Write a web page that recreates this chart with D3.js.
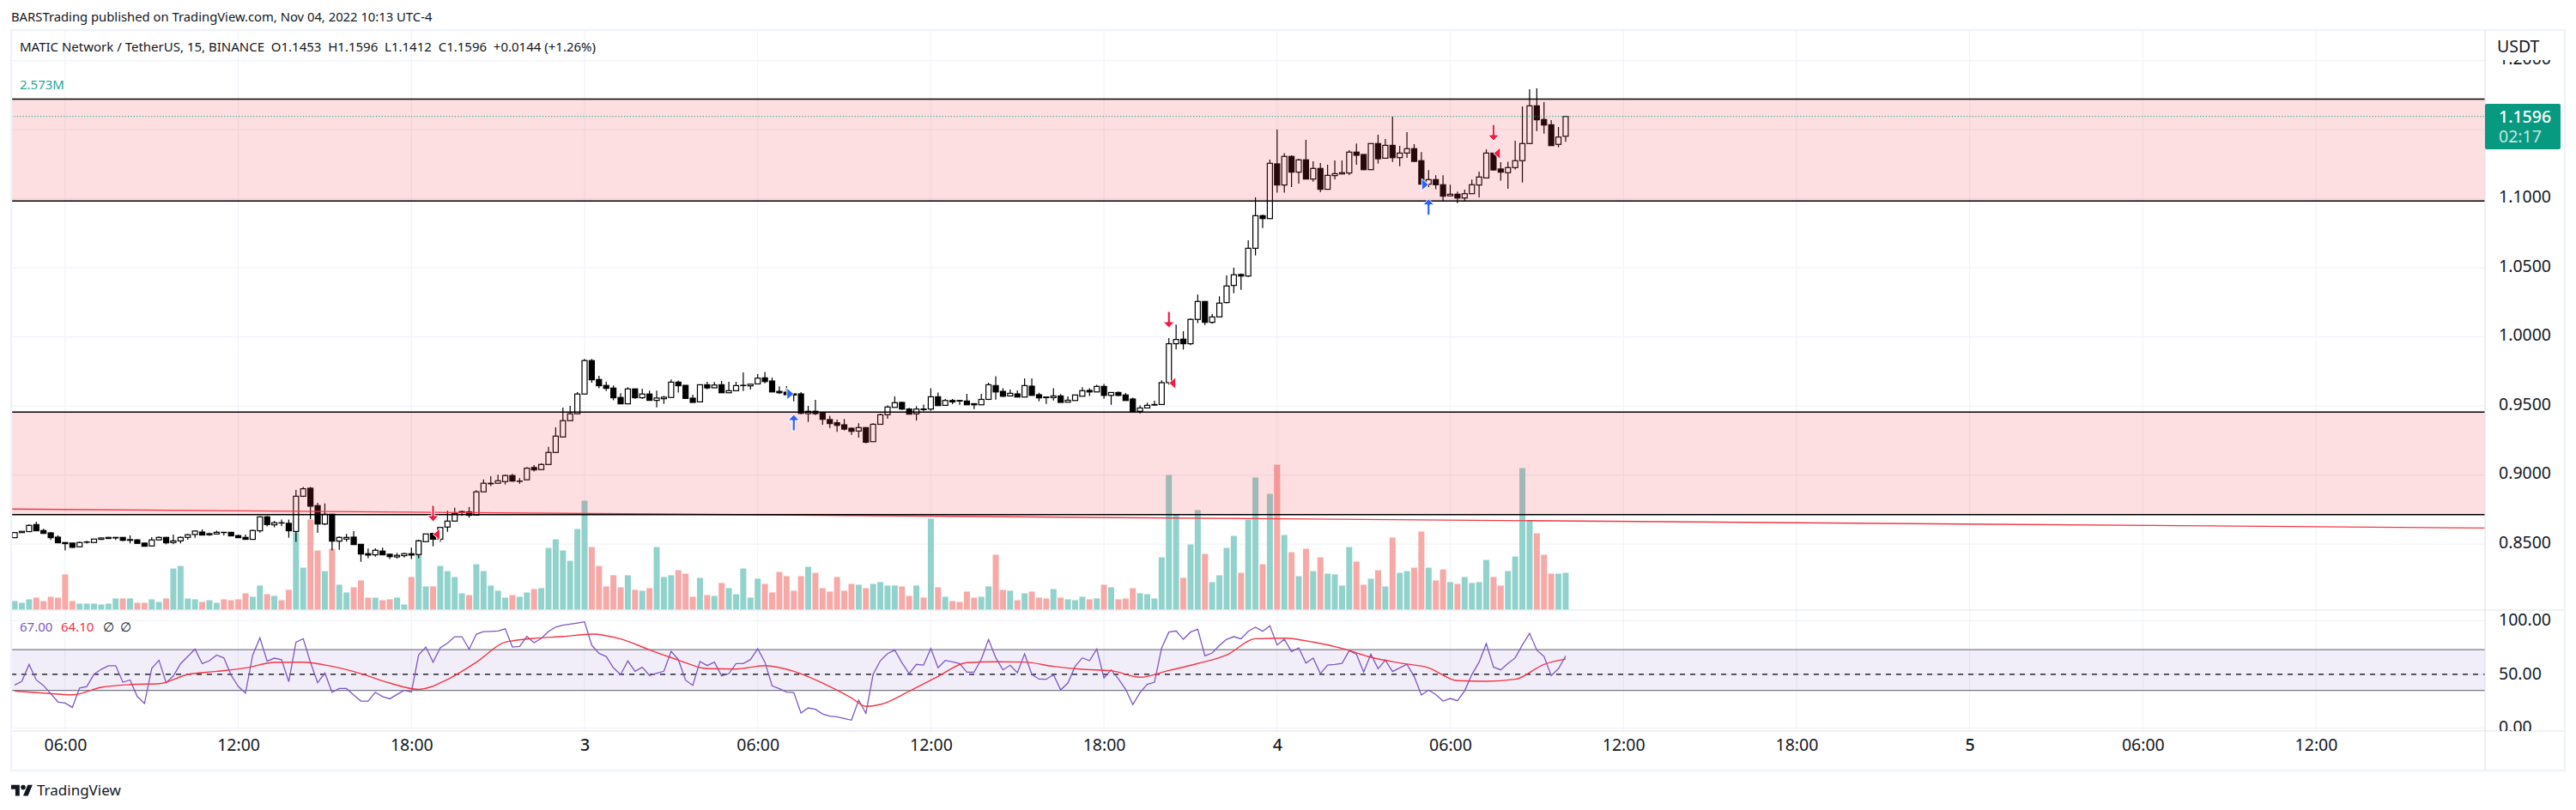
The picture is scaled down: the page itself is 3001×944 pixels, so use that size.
<!DOCTYPE html>
<html>
<head>
<meta charset="utf-8">
<script src="https://d3js.org/d3.v7.min.js"></script>
<style>
html, body { margin: 0; padding: 0; background: #fff; }
svg { display: block; }
text { font-family: "Noto Sans", sans-serif; fill: #131722; white-space: pre; }
</style>
</head>
<body>
<div id="chart"></div>
<script>
//////////////////////////////////////////////////////////////////////////////
// Data, one entry per 15 minute bar

var opens = [
  .8547,.8584,.8591,.8642,.8599,.8582,.8551,.8512,.8508,.8481,
  .8514,.8512,.8535,.8541,.8545,.8549,.8528,.8531,.8508,.8487,
  .8531,.8549,.8512,.8524,.8549,.8570,.8588,.8568,.8574,.8586,
  .8586,.8562,.8549,.8535,.8597,.8698,.8640,.8655,.8651,.8592,
  .8847,.8905,.8779,.8646,.8717,.8522,.8537,.8551,.8499,.8431,
  .8423,.8450,.8427,.8408,.8417,.8431,.8425,.8518,.8578,.8536,
  .8624,.8667,.8729,.8734,.8711,.8879,.8937,.8941,.8953,.8997,
  .8955,.8966,.9055,.9040,.9077,.9164,.9276,.9394,.9444,.9587,
  .9829,.9692,.9649,.9630,.9562,.9516,.9624,.9560,.9587,.9541,
  .9553,.9562,.9673,.9650,.9557,.9530,.9654,.9632,.9654,.9596,
  .9611,.9648,.9646,.9660,.9704,.9681,.9606,.9600,.9588,.9588,
  .9445,.9462,.9453,.9402,.9379,.9364,.9339,.9319,.9344,.9242,
  .9368,.9437,.9490,.9526,.9478,.9443,.9478,.9478,.9567,.9505,
  .9540,.9540,.9536,.9517,.9509,.9548,.9648,.9606,.9573,.9588,
  .9565,.9644,.9582,.9565,.9561,.9573,.9528,.9540,.9571,.9613,
  .9602,.9642,.9577,.9598,.9580,.9551,.9462,.9486,.9507,.9511,
  .9669,.9951,.9984,.9951,1.0127,1.0257,1.0106,1.0145,1.0249,1.0373,
  1.0452,1.0441,1.0642,1.0878,1.0857,1.1253,1.1100,1.1307,1.1193,1.1282,
  1.1143,1.1220,1.1069,1.1168,1.1180,1.1187,1.1338,1.1321,1.1211,1.1400,
  1.1294,1.1387,1.1298,1.1331,1.1363,1.1276,1.1106,1.1139,1.1102,1.1021,
  1.1033,1.1006,1.1037,1.1100,1.1151,1.1331,1.1216,1.1189,1.1226,1.1276,
  1.1400,1.1673,1.1574,1.1536,1.1394,1.1453];

var highs = [
  .8586,.8595,.8644,.8663,.8611,.8588,.8564,.8512,.8508,.8518,
  .8524,.8537,.8549,.8553,.8549,.8549,.8564,.8537,.8508,.8551,
  .8555,.8553,.8570,.8555,.8574,.8601,.8607,.8584,.8597,.8586,
  .8586,.8570,.8570,.8605,.8702,.8704,.8667,.8678,.8678,.8893,
  .8915,.8915,.8799,.8795,.8717,.8555,.8574,.8595,.8499,.8468,
  .8470,.8475,.8433,.8437,.8437,.8475,.8533,.8574,.8578,.8621,
  .8742,.8763,.8744,.8769,.8891,.8968,.8992,.9003,.9003,.9009,
  .8978,.9059,.9073,.9086,.9204,.9346,.9489,.9502,.9601,.9841,
  .9841,.9719,.9676,.9649,.9593,.9636,.9624,.9626,.9611,.9611,
  .9574,.9692,.9684,.9650,.9582,.9654,.9675,.9673,.9681,.9675,
  .9675,.9743,.9658,.9731,.9747,.9706,.9642,.9644,.9592,.9600,
  .9501,.9544,.9453,.9430,.9402,.9406,.9346,.9375,.9344,.9375,
  .9445,.9505,.9569,.9530,.9488,.9499,.9511,.9629,.9598,.9551,
  .9551,.9542,.9588,.9517,.9588,.9669,.9716,.9629,.9619,.9613,
  .9700,.9700,.9596,.9565,.9629,.9586,.9569,.9580,.9637,.9629,
  .9654,.9660,.9598,.9606,.9594,.9561,.9505,.9524,.9538,.9686,
  .9992,1.0089,1.0042,1.0135,1.0307,1.0257,1.0166,1.0294,1.0445,1.0501,
  1.0460,1.0700,1.1011,1.0886,1.1284,1.1501,1.1331,1.1315,1.1290,1.1427,
  1.1271,1.1259,1.1247,1.1278,1.1278,1.1352,1.1400,1.1321,1.1400,1.1464,
  1.1433,1.1594,1.1383,1.1483,1.1396,1.1338,1.1207,1.1170,1.1170,1.1102,
  1.1052,1.1066,1.1139,1.1197,1.1358,1.1331,1.1265,1.1269,1.1420,1.1669,
  1.1793,1.1799,1.1700,1.1569,1.1520,1.1596];

var lows = [
  .8547,.8584,.8588,.8595,.8578,.8531,.8510,.8454,.8473,.8481,
  .8504,.8512,.8531,.8541,.8531,.8522,.8506,.8506,.8485,.8487,
  .8531,.8499,.8499,.8506,.8533,.8547,.8566,.8560,.8574,.8564,
  .8560,.8547,.8535,.8535,.8584,.8628,.8622,.8630,.8547,.8516,
  .8841,.8681,.8582,.8638,.8454,.8460,.8518,.8497,.8373,.8398,
  .8410,.8423,.8392,.8396,.8404,.8392,.8398,.8518,.8485,.8516,
  .8589,.8667,.8705,.8692,.8711,.8879,.8920,.8941,.8932,.8951,
  .8937,.8966,.9026,.9040,.9077,.9164,.9276,.9394,.9444,.9587,
  .9669,.9628,.9609,.9541,.9516,.9516,.9553,.9551,.9541,.9491,
  .9516,.9562,.9597,.9555,.9526,.9530,.9621,.9632,.9596,.9596,
  .9611,.9608,.9619,.9660,.9664,.9602,.9586,.9582,.9534,.9441,
  .9385,.9435,.9364,.9341,.9313,.9323,.9292,.9271,.9230,.9242,
  .9368,.9408,.9490,.9472,.9441,.9395,.9462,.9466,.9503,.9505,
  .9513,.9509,.9509,.9478,.9509,.9548,.9546,.9565,.9573,.9565,
  .9565,.9577,.9534,.9515,.9540,.9526,.9528,.9540,.9571,.9573,
  .9602,.9553,.9509,.9571,.9540,.9455,.9445,.9486,.9505,.9511,
  .9655,.9909,.9909,.9940,1.0100,1.0087,1.0096,1.0145,1.0243,1.0317,
  1.0342,1.0435,1.0590,1.0789,1.0857,1.1044,1.1044,1.1085,1.1110,1.1143,
  1.1124,1.1048,1.1069,1.1141,1.1180,1.1172,1.1247,1.1207,1.1211,1.1255,
  1.1294,1.1267,1.1236,1.1296,1.1267,1.1106,1.1085,1.1069,1.0986,1.1021,
  1.0969,1.0984,1.1037,1.1011,1.1151,1.1203,1.1131,1.1073,1.1213,1.1118,
  1.1400,1.1491,1.1472,1.1385,1.1373,1.1412];

var closes = [
  .8584,.8593,.8636,.8597,.8578,.8547,.8510,.8504,.8477,.8512,
  .8516,.8537,.8545,.8549,.8549,.8528,.8533,.8506,.8485,.8531,
  .8549,.8510,.8524,.8549,.8568,.8595,.8566,.8576,.8586,.8584,
  .8560,.8547,.8535,.8599,.8698,.8642,.8655,.8653,.8597,.8847,
  .8901,.8775,.8646,.8717,.8522,.8549,.8549,.8497,.8429,.8421,
  .8456,.8423,.8410,.8419,.8431,.8421,.8524,.8574,.8536,.8621,
  .8667,.8723,.8736,.8709,.8879,.8941,.8941,.8959,.8997,.8957,
  .8957,.9050,.9038,.9077,.9164,.9282,.9394,.9444,.9587,.9829,
  .9690,.9647,.9628,.9560,.9516,.9624,.9560,.9587,.9541,.9558,
  .9564,.9673,.9647,.9555,.9526,.9654,.9631,.9652,.9596,.9611,
  .9648,.9650,.9658,.9702,.9677,.9602,.9596,.9582,.9580,.9447,
  .9462,.9445,.9404,.9373,.9360,.9333,.9317,.9344,.9238,.9368,
  .9437,.9493,.9524,.9478,.9441,.9478,.9474,.9567,.9503,.9540,
  .9530,.9536,.9509,.9509,.9548,.9654,.9602,.9571,.9592,.9565,
  .9648,.9577,.9559,.9561,.9573,.9526,.9542,.9580,.9611,.9602,
  .9642,.9577,.9598,.9577,.9540,.9455,.9486,.9505,.9511,.9669,
  .9951,.9982,.9951,1.0127,1.0257,1.0106,1.0145,1.0245,1.0369,1.0450,
  1.0441,1.0642,1.0878,1.0857,1.1257,1.1100,1.1307,1.1193,1.1282,1.1143,
  1.1220,1.1069,1.1170,1.1182,1.1189,1.1338,1.1315,1.1211,1.1400,1.1290,
  1.1387,1.1298,1.1331,1.1363,1.1271,1.1106,1.1139,1.1102,1.1019,1.1033,
  1.1006,1.1037,1.1102,1.1158,1.1331,1.1209,1.1193,1.1226,1.1276,1.1400,
  1.1673,1.1572,1.1534,1.1385,1.1447,1.1596];

var volumes = [
  .60,.48,.72,.84,.60,.90,.84,2.46,.60,.42,
  .42,.42,.36,.42,.78,.78,.78,.48,.48,.72,
  .54,.78,2.87,3.05,.78,.72,.54,.66,.48,.72,
  .66,.72,1.14,.90,1.68,1.08,.96,.66,1.38,5.39,
  2.93,6.29,4.13,2.69,4.25,1.74,1.20,1.56,2.04,.84,
  .84,.66,.72,.84,.36,2.28,4.85,1.62,1.62,3.05,
  2.69,2.28,1.14,1.02,3.17,2.69,1.68,1.32,.84,1.02,
  .90,1.20,1.44,1.50,4.31,4.91,4.13,3.41,5.63,7.60,
  4.37,3.05,1.62,2.40,1.56,2.40,1.38,1.32,1.50,4.37,
  2.28,2.40,2.75,2.51,.90,2.22,1.02,.96,1.86,1.50,
  1.08,2.87,.84,2.16,1.80,1.20,2.63,2.34,1.32,2.34,
  2.99,2.57,1.50,1.26,2.28,1.32,1.80,1.74,1.50,1.80,
  1.92,1.68,1.68,1.62,.96,1.68,.84,6.35,1.56,.90,
  .60,.54,1.26,.84,.90,1.62,3.83,1.38,1.32,.66,
  1.14,1.26,.84,.78,1.44,.84,.72,.66,.90,.72,
  .78,1.74,1.56,.72,.78,1.50,1.14,1.08,.78,3.65,
  9.40,6.63,2.22,4.55,6.95,3.89,1.92,2.40,4.31,5.15,
  2.57,6.29,9.22,3.17,8.08,10.12,5.21,4.01,2.34,4.25,
  2.69,3.65,2.51,2.46,1.68,4.37,3.35,1.74,2.16,2.75,
  1.62,5.03,2.57,2.69,2.93,5.45,2.93,2.04,2.81,1.92,
  1.80,2.28,1.86,1.92,3.47,2.28,1.68,2.69,3.71,9.88,
  6.23,5.33,3.83,2.51,2.51,2.573];

var rsiValues = [
  39.9,43.4,59.1,44.7,39.5,31.9,24.2,23.1,19.1,37.2,
  38.6,50.0,54.6,58.0,58.0,42.6,44.7,29.2,22.8,55.4,
  63.1,42.1,48.4,59.9,66.6,73.5,59.9,62.6,67.9,65.2,
  49.2,38.6,32.4,67.9,83.9,62.1,65.0,63.6,43.1,79.9,
  83.1,61.2,42.1,51.1,33.2,36.7,36.7,30.6,25.0,25.0,
  33.2,29.2,27.1,31.1,35.1,33.5,67.9,75.4,61.2,74.6,
  79.1,85.0,85.0,73.3,87.4,89.8,90.0,90.3,92.4,75.4,
  75.9,85.2,79.4,83.4,89.8,94.0,95.7,96.7,97.8,98.9,
  77.0,69.5,66.6,56.0,49.6,62.4,52.8,56.5,48.8,50.9,
  52.8,71.4,63.7,44.5,39.7,61.8,58.1,61.3,48.5,50.6,
  60.0,60.0,63.7,73.8,61.3,39.2,36.5,33.3,33.0,13.8,
  18.6,17.3,13.0,10.9,10.4,8.8,7.2,25.8,13.6,49.8,
  62.6,69.3,72.5,60.8,50.6,59.2,58.6,74.1,56.0,62.9,
  61.6,60.0,52.0,52.0,64.0,82.4,65.3,54.1,58.4,51.4,
  69.0,49.8,45.5,45.3,49.6,35.4,41.8,57.3,65.3,62.6,
  73.6,46.6,54.1,45.8,36.0,21.8,33.0,40.5,42.6,74.6,
  89.3,90.4,82.6,89.3,92.0,67.2,69.8,76.8,82.6,85.0,
  83.1,90.1,93.8,90.1,95.2,77.3,82.6,71.2,74.6,60.5,
  65.0,50.6,58.6,59.2,60.2,71.9,68.7,52.0,68.7,55.2,
  63.2,52.5,56.0,59.4,48.0,30.6,35.2,31.1,25.0,27.4,
  25.3,34.6,49.8,61.3,78.6,56.7,54.1,60.0,65.3,77.3,
  88.2,72.5,66.6,48.7,55.2,67.0];

// RSI moving average, read every fourth bar
var rsiMaBars = [0,4,8,12,16,20,24,28,32,36,40,44,48,52,56,60,64,68,72,76,80,84,88,92,96,100,
  104,108,112,116,118,120,124,128,132,136,140,144,148,152,156,160,164,168,172,176,180,184,188,192,196,200,204,208,212,215];
var rsiMaValues = [34.3,32.4,30.8,37.8,40.4,41.2,49.8,52.7,55.9,61.0,61.2,57.3,50.6,41.8,35.9,45.2,61.2,79.9,83.4,85.2,87.4,82.9,
  72.8,63.2,55.2,54.9,58.1,52.8,41.8,28.0,20.0,21.8,34.1,48.0,60.8,61.6,61.3,57.3,54.6,53.3,47.2,53.5,60.0,67.9,83.1,83.7,80.0,
  74.1,65.8,60.5,56.0,44.0,43.4,45.3,59.2,64.1];

var priceTicks = [1.2,1.15,1.1,1.05,1,.95,.9,.85];
var priceLabelTicks = [1.2,1.1,1.05,1,.95,.9,.85]; // 1.15 sits behind the last price tag
var rsiTicks = [100,50,0];
var timeBars = [7,31,55,79,103,127,151,175,199,223,247,271,295,319];
var timeLabels = ["06:00","12:00","18:00","3","06:00","12:00","18:00","4","06:00","12:00","18:00","5","06:00","12:00"];
var dayLabels = ["3","4","5"];

var zoneTops = [1.1722,.9456];
var zoneBottoms = [1.0984,.8714];
var trendBars = [-0.48,342.4];
var trendPrices = [.8754,.8617];
var lastPrice = 1.1596;
var rsiBandHigh = 73, rsiBandMid = 50, rsiBandLow = 35;

var sellArrowBars = [58,160,205], sellArrowPrices = [.8663,1.0066,1.1420];
var buyArrowBars = [108,196], buyArrowPrices = [.9439,1.1000];
var sellMarkBars = [58,160,205], sellMarkPrices = [.8571,.9666,1.1329];
var buyMarkBars = [108,196], buyMarkPrices = [.9588,1.1103];

//////////////////////////////////////////////////////////////////////////////
// Layout and scales

var width = 3001, height = 944;
var paneLeft = 13, paneRight = 2895, frameRight = 2988, paneTop = 35, paneBottom = 711, rsiBottom = 852, frameBottom = 898;

var x = d3.scaleLinear().domain([7,319]).range([75.9,2698]);
var y = d3.scaleLinear().domain([1.2,.85]).range([70.7,634.2]);
var yVol = d3.scaleLinear().domain([0,1]).range([710.5,693.8]);
var yRsi = d3.scaleLinear().domain([0,100]).range([848.3,723.3]);

var grid = "#f0f3fa", border = "#e0e3eb", teal = "#089981";
var candleStroke = 1.2, bodyW = 6, volW = 7;

var svg = d3.select("#chart").append("svg").attr("width", width).attr("height", height);

svg.append("clipPath").attr("id", "pane").append("rect")
  .attr("x", paneLeft).attr("y", paneTop).attr("width", paneRight - paneLeft).attr("height", paneBottom - paneTop);
svg.append("clipPath").attr("id", "priceLabels").append("rect")
  .attr("x", paneRight).attr("y", 70).attr("width", 100).attr("height", paneBottom - 70);
svg.append("clipPath").attr("id", "rsiLabels").append("rect")
  .attr("x", paneRight).attr("y", paneBottom).attr("width", 100).attr("height", rsiBottom - paneBottom);

var bars = d3.range(opens.length);

//////////////////////////////////////////////////////////////////////////////
// Grid

svg.append("g").selectAll("line").data(timeBars).enter().append("line")
  .attr("x1", x).attr("x2", x).attr("y1", paneTop).attr("y2", rsiBottom)
  .attr("stroke", grid).attr("stroke-width", 1.2);
svg.append("g").selectAll("line").data(priceTicks).enter().append("line")
  .attr("x1", paneLeft).attr("x2", paneRight).attr("y1", y).attr("y2", y)
  .attr("stroke", grid).attr("stroke-width", 1.2);
svg.append("g").selectAll("line").data(rsiTicks).enter().append("line")
  .attr("x1", paneLeft).attr("x2", paneRight).attr("y1", yRsi).attr("y2", yRsi)
  .attr("stroke", grid).attr("stroke-width", 1.2);

//////////////////////////////////////////////////////////////////////////////
// Volume, candles

var pane = svg.append("g").attr("clip-path", "url(#pane)");

pane.append("g").selectAll("rect").data(bars).enter().append("rect")
  .attr("x", function(i) { return x(i) - volW / 2; })
  .attr("width", volW)
  .attr("y", function(i) { return yVol(volumes[i]); })
  .attr("height", function(i) { return yVol(0) - yVol(volumes[i]); })
  .attr("fill", function(i) { return closes[i] >= opens[i] ? "#92d2cc" : "#f7a9a7"; });

pane.append("g").selectAll("line").data(bars).enter().append("line")
  .attr("x1", x).attr("x2", x)
  .attr("y1", function(i) { return y(highs[i]); })
  .attr("y2", function(i) { return y(lows[i]); })
  .attr("stroke", "#000").attr("stroke-width", candleStroke);

pane.append("g").selectAll("rect").data(bars).enter().append("rect")
  .attr("x", function(i) { return x(i) - bodyW / 2; })
  .attr("width", bodyW)
  .attr("y", function(i) { return y(Math.max(opens[i], closes[i])); })
  .attr("height", function(i) { return Math.abs(y(opens[i]) - y(closes[i])); })
  .attr("fill", function(i) { return closes[i] >= opens[i] ? "#fff" : "#000"; })
  .attr("stroke", "#000").attr("stroke-width", candleStroke);

//////////////////////////////////////////////////////////////////////////////
// Zones sit on top of the candles and tint them

pane.append("g").selectAll("rect").data(d3.range(zoneTops.length)).enter().append("rect")
  .attr("x", paneLeft).attr("width", paneRight - paneLeft)
  .attr("y", function(i) { return y(zoneTops[i]); })
  .attr("height", function(i) { return y(zoneBottoms[i]) - y(zoneTops[i]); })
  .attr("fill", "#f23645").attr("fill-opacity", 0.16);

pane.append("line")
  .attr("x1", x(trendBars[0])).attr("x2", x(trendBars[1]))
  .attr("y1", y(trendPrices[0])).attr("y2", y(trendPrices[1]))
  .attr("stroke", "#f23645").attr("stroke-width", 1.4);

pane.append("g").selectAll("line").data(zoneTops.concat(zoneBottoms)).enter().append("line")
  .attr("x1", paneLeft).attr("x2", paneRight).attr("y1", y).attr("y2", y)
  .attr("stroke", "#000").attr("stroke-width", 1.4);

pane.append("line")
  .attr("x1", paneLeft).attr("x2", paneRight).attr("y1", y(lastPrice)).attr("y2", y(lastPrice))
  .attr("stroke", teal).attr("stroke-width", 1.2).attr("stroke-dasharray", "1.2 2.2");

//////////////////////////////////////////////////////////////////////////////
// Signal markers

function arrowPath(tipX, tipY, dir) {
  // dir -1: tip at the bottom, pointing down. dir 1: tip at the top, pointing up
  var p = d3.path();
  p.moveTo(tipX, tipY);
  p.lineTo(tipX + 6.5, tipY + dir * 7);
  p.lineTo(tipX + 1.6, tipY + dir * 7);
  p.lineTo(tipX + 1.6, tipY + dir * 19);
  p.lineTo(tipX - 1.6, tipY + dir * 19);
  p.lineTo(tipX - 1.6, tipY + dir * 7);
  p.lineTo(tipX - 6.5, tipY + dir * 7);
  p.closePath();
  return p.toString();
}

function triPath(tipX, tipY, dir) {
  // dir 1: base on the right, tip pointing left. dir -1: the mirror image
  var p = d3.path();
  p.moveTo(tipX, tipY);
  p.lineTo(tipX + dir * 8, tipY - 7);
  p.lineTo(tipX + dir * 8, tipY + 7);
  p.closePath();
  return p.toString();
}

function addMarks(barsList, prices, color, pathFn) {
  pane.append("g").selectAll("path").data(barsList).enter().append("path")
    .attr("d", function(b, i) { return pathFn(x(b), y(prices[i])); })
    .attr("fill", color).attr("stroke", "#fff").attr("stroke-width", 1);
}

var red = "#f7193f", blue = "#2962ff";
addMarks(sellArrowBars, sellArrowPrices, red, function(a, b) { return arrowPath(a, b, -1); });
addMarks(buyArrowBars, buyArrowPrices, blue, function(a, b) { return arrowPath(a, b, 1); });
addMarks(sellMarkBars, sellMarkPrices, red, function(a, b) { return triPath(a, b, 1); });
addMarks(buyMarkBars, buyMarkPrices, blue, function(a, b) { return triPath(a, b, -1); });

//////////////////////////////////////////////////////////////////////////////
// RSI pane

svg.append("rect")
  .attr("x", paneLeft).attr("width", paneRight - paneLeft)
  .attr("y", yRsi(rsiBandHigh)).attr("height", yRsi(rsiBandLow) - yRsi(rsiBandHigh))
  .attr("fill", "#7e57c2").attr("fill-opacity", 0.1);

svg.append("g").selectAll("line").data([rsiBandHigh, rsiBandLow]).enter().append("line")
  .attr("x1", paneLeft).attr("x2", paneRight).attr("y1", yRsi).attr("y2", yRsi)
  .attr("stroke", "#787b86").attr("stroke-width", 1.2);

svg.append("line")
  .attr("x1", paneLeft).attr("x2", paneRight).attr("y1", yRsi(rsiBandMid)).attr("y2", yRsi(rsiBandMid))
  .attr("stroke", "#000").attr("stroke-width", 1.2).attr("stroke-dasharray", "6 6");

var rsiLine = d3.line().x(function(i) { return x(i); }).y(function(i) { return yRsi(rsiValues[i]); });
svg.append("path").attr("d", rsiLine(bars))
  .attr("fill", "none").attr("stroke", "#7e57c2").attr("stroke-width", 1.3);

var maLine = d3.line().curve(d3.curveMonotoneX)
  .x(function(i) { return x(rsiMaBars[i]); })
  .y(function(i) { return yRsi(rsiMaValues[i]); });
svg.append("path").attr("d", maLine(d3.range(rsiMaBars.length)))
  .attr("fill", "none").attr("stroke", "#f23645").attr("stroke-width", 1.4);

//////////////////////////////////////////////////////////////////////////////
// Frame and axes

svg.append("g").selectAll("line").data([paneBottom, rsiBottom]).enter().append("line")
  .attr("x1", paneLeft).attr("x2", frameRight).attr("y1", function(d) { return d; }).attr("y2", function(d) { return d; })
  .attr("stroke", border).attr("stroke-width", 1.2);
svg.append("line").attr("x1", paneRight).attr("x2", paneRight).attr("y1", paneTop).attr("y2", frameBottom)
  .attr("stroke", border).attr("stroke-width", 1.2);
svg.append("rect")
  .attr("x", paneLeft).attr("y", paneTop).attr("width", frameRight - paneLeft).attr("height", frameBottom - paneTop)
  .attr("fill", "none").attr("stroke", grid).attr("stroke-width", 2.4);

var labelSize = "19.5px";

function styleAxis(g) {
  g.select(".domain").remove();
  g.selectAll(".tick line").remove();
  g.selectAll(".tick text").style("font-size", labelSize).style("font-family", '"Noto Sans", sans-serif').style("fill", "#131722");
}

svg.append("g").attr("clip-path", "url(#priceLabels)").append("g")
  .attr("transform", "translate(" + (paneRight + 16) + ",-2)")
  .call(d3.axisRight(y).tickValues(priceLabelTicks).tickSize(0).tickPadding(0).tickFormat(d3.format(".4f")))
  .call(styleAxis);

svg.append("g").attr("clip-path", "url(#rsiLabels)").append("g")
  .attr("transform", "translate(" + (paneRight + 16) + ",-1)")
  .call(d3.axisRight(yRsi).tickValues(rsiTicks).tickSize(0).tickPadding(0).tickFormat(d3.format(".2f")))
  .call(styleAxis);

svg.append("g").attr("transform", "translate(0," + 861 + ")")
  .call(d3.axisBottom(x).tickValues(timeBars).tickSize(0).tickPadding(0)
    .tickFormat(function(d, i) { return timeLabels[i]; }))
  .call(styleAxis)
  .selectAll(".tick text")
  .style("font-weight", function(d, i) { return dayLabels.indexOf(timeLabels[i]) >= 0 ? 500 : 400; });

svg.append("text").attr("x", paneRight + 14).attr("y", 61).style("font-size", labelSize).text("USDT");

svg.append("rect").attr("x", paneRight).attr("y", 121).attr("width", 88).attr("height", 53).attr("rx", 2).attr("fill", teal);
svg.append("text").attr("x", paneRight + 16).attr("y", 143).style("font-size", labelSize).style("fill", "#fff").style("font-weight", 500)
  .text(d3.format(".4f")(lastPrice));
svg.append("text").attr("x", paneRight + 16).attr("y", 166).style("font-size", labelSize).style("fill", "#fff").style("opacity", 0.75)
  .text("02:17");

//////////////////////////////////////////////////////////////////////////////
// Header, legends, logo

svg.append("text").attr("x", 13).attr("y", 25).style("font-size", "14.8px")
  .text("BARSTrading published on TradingView.com, Nov 04, 2022 10:13 UTC-4");
svg.append("text").attr("x", 23).attr("y", 60).style("font-size", "15px")
  .text("MATIC Network / TetherUS, 15, BINANCE  O1.1453  H1.1596  L1.1412  C1.1596  +0.0144 (+1.26%)");
svg.append("text").attr("x", 23).attr("y", 104).style("font-size", "15px").style("fill", "#26a69a").text("2.573M");

var rsiLegend = [["67.00", 23, "#7e57c2"], ["64.10", 71, "#f23645"], ["\u2205", 120, "#131722"], ["\u2205", 140, "#131722"]];
svg.append("g").selectAll("text").data(rsiLegend).enter().append("text")
  .attr("x", function(d) { return d[1]; }).attr("y", 736)
  .style("font-size", "15px")
  .style("font-family", function(d) { return d[0] === "\u2205" ? '"DejaVu Sans", sans-serif' : null; })
  .style("fill", function(d) { return d[2]; })
  .text(function(d) { return d[0]; });

var logo = svg.append("g").attr("transform", "translate(13,912) scale(.7)").attr("fill", "#131722");
logo.append("path").attr("d", "M14 22H7V11H0V4h14v18zM28 22h-8l7.5-18h8L28 22z");
logo.append("circle").attr("cx", 20).attr("cy", 8).attr("r", 4);
svg.append("text").attr("x", 43).attr("y", 927).style("font-size", "17px").text("TradingView");
</script>
</body>
</html>
